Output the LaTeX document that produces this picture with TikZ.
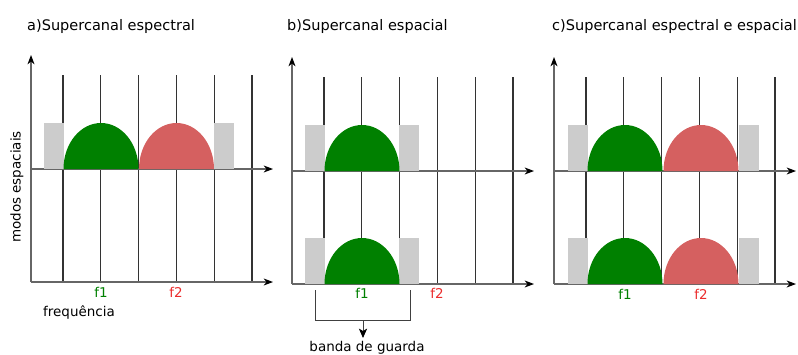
\documentclass[tikz,border=0pt]{standalone}
\usepackage{fontspec}
\setmainfont{DejaVu Sans}
\usetikzlibrary{positioning,arrows.meta}
\definecolor{verdeF}{RGB}{0,128,0}
\definecolor{vermF}{RGB}{213,96,96}
\definecolor{vermT}{RGB}{235,45,45}
\begin{document}
\begin{tikzpicture}[
  x=0.03cm, y=-0.03cm,
  grade/.style ={draw=black!80,line width=0.9pt},
  eixo/.style  ={draw=black!60,line width=0.9pt,-{Stealth[color=black,length=8pt,width=6pt,inset=2.5pt]}},
  guarda/.style={fill=black!20},
  titulo/.style={anchor=west,inner sep=0pt,font=\fontsize{12.4}{14}\selectfont},
  rotulo/.style={font=\fontsize{11.5}{13}\selectfont,inner sep=1pt}]
\useasboundingbox (0,0) rectangle (798,354);
% --- Three frames: grid lines and axes (offsets in px) ---
\foreach \ox/\oy in {0/0, 261/2, 523/2}
{
  \foreach \k in {0,...,5}
    \draw[grade] (\ox+63+37.8*\k,\oy+75) -- (\ox+63+37.8*\k,\oy+282);
  \draw[eixo] (\ox+31,\oy+282) -- (\ox+31,\oy+55);
  \draw[eixo] (\ox+31,\oy+169) -- (\ox+273,\oy+169);
  \draw[eixo] (\ox+31,\oy+282) -- (\ox+273,\oy+282);
}
% --- Guard bands (gray) ---
\foreach \gx/\gy in {44/169, 214/169,
                     305/171, 399/171, 305/284, 399/284,
                     568/171, 739/171, 568/284, 739/284}
  \fill[guarda] (\gx,\gy) rectangle ++(20,-46);
% --- Channels (half ellipses) ---
\foreach \cx/\cy/\cor in {101/169/verdeF, 176.5/169/vermF,
                          362/171/verdeF, 362/284/verdeF,
                          625/171/verdeF, 701/171/vermF,
                          625/284/verdeF, 701/284/vermF}
  \fill[\cor] (\cx-37.5,\cy) arc[start angle=180,end angle=360,x radius=37.5,y radius=46] -- cycle;
% --- Titles ---
\node[titulo] (ta) at (27,26)  {a)Supercanal espectral};
\node[titulo] (tb) at (287,26) {b)Supercanal espacial};
\node[titulo] (tc) at (552,26) {c)Supercanal espectral e espacial};
% --- Axis labels ---
\node[rotulo,rotate=90] (modos) at (17,187) {modos espaciais};
\node[rotulo] (freq) at (79,313) {frequência};
% --- Carrier labels ---
\node[rotulo,text=verdeF] (fa1) at (101,292) {f1};
\node[rotulo,text=vermT]  (fa2) at (176,292) {f2};
\node[rotulo,text=verdeF] (fb1) at (362,293) {f1};
\node[rotulo,text=vermT]  (fb2) at (437,293) {f2};
\node[rotulo,text=verdeF] (fc1) at (625,294) {f1};
\node[rotulo,text=vermT]  (fc2) at (701,294) {f2};
% --- Guard band bracket ---
\coordinate (g1) at (315,290);
\coordinate (g2) at (410,290);
\coordinate (gm) at (363,320);
\coordinate (gs) at (363,338);
\draw[black!75,line width=0.8pt] (g1) -- (g1 |- gm) -- (g2 |- gm) -- (g2);
\draw[black!75,line width=0.8pt,-{Stealth[color=black,length=8pt,width=7pt,inset=2pt]}] (gm) -- (gs);
\node[rotulo,anchor=base] (banda) at (367,351) {banda de guarda};
\end{tikzpicture}
\end{document}
